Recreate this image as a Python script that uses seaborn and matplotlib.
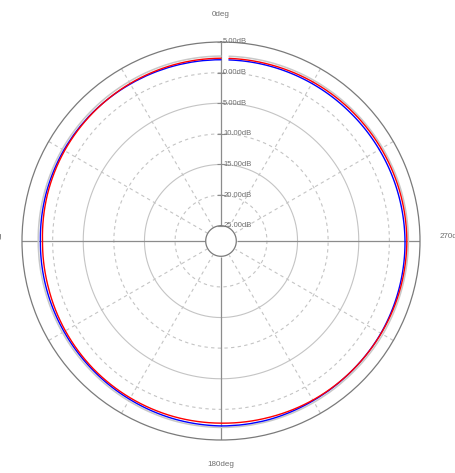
import matplotlib
matplotlib.use("Agg")
import matplotlib.pyplot as plt
import numpy as np
import seaborn as sns

# angles in degrees (counter-clockwise from top), values in dB
angles = [0, 15, 30, 45, 60, 75, 90, 105, 120, 135, 150, 165, 180,
          195, 210, 225, 240, 255, 270, 285, 300, 315, 330, 345, 357.5]
red_db = [2.35, 2.3, 2.2, 2.1, 2.0, 1.85, 1.65, 1.7, 1.85, 2.0, 2.1, 2.2, 2.25,
          2.35, 2.5, 2.6, 2.7, 2.8, 2.85, 2.8, 2.7, 2.6, 2.5, 2.4, 2.35]
blue_db = [2.1, 2.1, 2.1, 2.15, 2.15, 2.1, 2.0, 2.05, 2.1, 2.2, 2.35, 2.55, 2.7,
           2.7, 2.6, 2.6, 2.65, 2.6, 2.55, 2.45, 2.35, 2.25, 2.2, 2.15, 2.1]
gray_db = [2.7, 2.65, 2.55, 2.5, 2.45, 2.4, 2.35, 2.35, 2.4, 2.5, 2.65, 2.85, 2.95,
           2.95, 2.9, 2.9, 3.0, 3.05, 3.1, 3.05, 2.95, 2.85, 2.8, 2.75, 2.7]

ring_db = [5, 0, -5, -10, -15, -20, -25]
ring_labels = ["5.00dB", "0.00dB", "5.00dB", "10.00dB", "15.00dB", "20.00dB", "25.00dB"]
spoke_deg = [0, 30, 60, 90, 120, 150, 180, 210, 240, 270, 300, 330]
dir_labels = ["0deg", "90deg", "180deg", "270deg"]

R_MIN, R_MAX = -27.5, 5
W, H = 455, 473
FONT = ["Liberation Sans", "DejaVu Sans"]

sns.set_style("white")
plt.rcParams["font.family"] = FONT

fig = plt.figure(figsize=(W / 100, H / 100), dpi=100)
cx, cy, rad = 221, 241, 199
ax = fig.add_axes([(cx - rad) / W, (H - cy - rad) / H, 2 * rad / W, 2 * rad / H],
                  projection="polar")
ax.set_theta_zero_location("N")
ax.set_theta_direction(1)
ax.grid(False)
ax.set_xticks([])
ax.set_yticks([])
ax.spines["polar"].set_color("#7a7a7a")
ax.spines["polar"].set_linewidth(0.9)

full = np.linspace(0, 2 * np.pi, 361)

# rings
for v in ring_db[1:-1]:
    dashed = v in (0, -10, -20)
    ax.plot(full, np.full_like(full, v), color="#c4c4c4", lw=0.8,
            ls=(0, (3, 3)) if dashed else "-", zorder=1)

# spokes
for d in spoke_deg:
    t = np.deg2rad(d)
    if d % 90 == 0:
        ax.plot([t, t], [-25, R_MAX], color="#8c8c8c", lw=0.9, zorder=2)
    else:
        ax.plot([t, t], [-25, R_MAX], color="#c4c4c4", lw=0.8, ls=(0, (3, 3)), zorder=1)

# data traces
th = np.deg2rad(angles)
n_before = len(ax.lines)
sns.lineplot(x=th, y=gray_db, ax=ax, color="#c8c8c8", lw=1.1, sort=False, estimator=None, zorder=3)
sns.lineplot(x=th, y=blue_db, ax=ax, color="#0000ff", lw=1.0, sort=False, estimator=None, zorder=4)
sns.lineplot(x=th, y=red_db, ax=ax, color="#ff0000", lw=1.0, sort=False, estimator=None, zorder=5)
# draw traces as arcs between points, like polar gridlines
for line in ax.lines[n_before:]:
    line.get_path()._interpolation_steps = 40

# centre hole
ax.fill_between(full, R_MIN, -25, color="white", zorder=6)
ax.plot(full, np.full_like(full, -25), color="#7a7a7a", lw=0.9, zorder=7)

ax.set_ylim(R_MIN, R_MAX)
ax.set_xlabel("")
ax.set_ylabel("")

# ring labels with small ticks on the vertical axis
ax.plot([0] * len(ring_db), ring_db, ls="none", marker="_", ms=6, mew=0.8,
        color="#8c8c8c", zorder=8, clip_on=False)
for v, lab in zip(ring_db, ring_labels):
    ax.annotate(lab, xy=(0, v), xytext=(1.5, 0), textcoords="offset points",
                ha="left", va="center", fontsize=5.5, color="#6e6e6e", zorder=9,
                annotation_clip=False)

# direction labels
txt = dict(fontsize=5.8, color="#6e6e6e")
fig.text(cx / W, 1 - 14 / H, dir_labels[0], ha="center", va="center", **txt)
fig.text(2 / W, 1 - 236 / H, dir_labels[1], ha="right", va="center", **txt)
fig.text(cx / W, 1 - 464 / H, dir_labels[2], ha="center", va="center", **txt)
fig.text(440 / W, 1 - 236 / H, dir_labels[3], ha="left", va="center", **txt)

fig.savefig("out.png", dpi=100, facecolor="white")
